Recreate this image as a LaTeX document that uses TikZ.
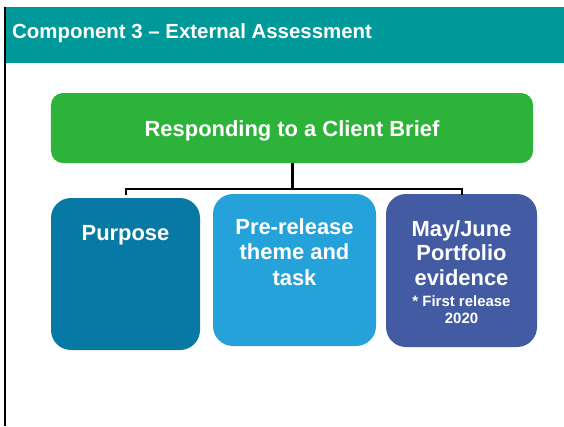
\documentclass[tikz,border=0pt]{standalone}
\usepackage{fontspec}
\setmainfont{Liberation Sans}
\definecolor{teal1}{HTML}{009999}
\definecolor{grn}{HTML}{2DB33A}
\definecolor{bA}{HTML}{0878A4}
\definecolor{bB}{HTML}{26A2DB}
\definecolor{bC}{HTML}{425BA2}
\begin{document}
\begin{tikzpicture}[x=1bp,y=-1bp,
  box/.style={draw=none,rounded corners=20bp,inner sep=0pt},
  wt/.style={text=white,font=\bfseries,align=center,inner sep=0pt},
  conn/.style={draw=black,line width=2bp}]
\useasboundingbox (0,0) rectangle (564,426);
\fill[white] (0,0) rectangle (564,426);
\fill[teal1] (5,7) rectangle (564,63);
\draw[line width=2bp] (5,7) -- (5,426);
\node[wt,anchor=west,font=\bfseries\fontsize{20.5}{24}\selectfont] (title) at (12,33) {Component 3 – External Assessment};
\node[box,fill=grn,rounded corners=12bp,minimum width=482bp,minimum height=70bp] (g) at (292,128) {};
\node[wt,font=\bfseries\fontsize{22}{26}\selectfont] (gt) at (292,131) {Responding to a Client Brief};
\node[box,fill=bA,minimum width=149bp,minimum height=152bp] (b1) at (125.5,274) {};
\node[box,fill=bB,minimum width=163bp,minimum height=152bp] (b2) at (294.5,270) {};
\node[box,fill=bC,minimum width=151bp,minimum height=153bp] (b3) at (461.5,270.5) {};
\node[wt,font=\bfseries\fontsize{22}{26}\selectfont] (t1) at (125.5,235) {Purpose};
\node[wt,font=\bfseries\fontsize{22}{26}\selectfont,anchor=north] (t2) at (294.5,218) {Pre-release\\theme and\\task};
\node[wt,font=\bfseries\fontsize{22}{25}\selectfont,anchor=north] (t3) at (461.5,220) {May/June\\Portfolio\\evidence};
\node[wt,font=\bfseries\fontsize{15}{18}\selectfont,anchor=north] (t4) at (461.5,295) {* First release\\2020};
\coordinate (j) at (292,189);
\draw[conn,line width=3bp] (g.south) -- (j);
\draw[conn] (b1.north) ++(0,-3) |- (j) -| ([yshift=-1bp]b3.north);
\end{tikzpicture}
\end{document}
